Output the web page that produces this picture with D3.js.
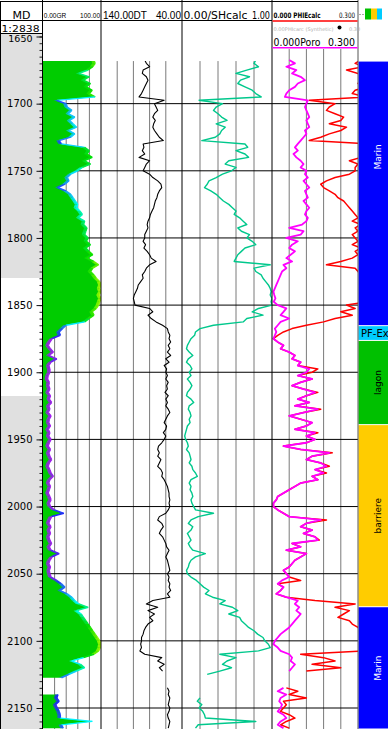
<!DOCTYPE html>
<html>
<head>
<meta charset="utf-8">
<script src="https://cdn.jsdelivr.net/npm/d3@7"></script>
<style>
  html, body { margin: 0; padding: 0; background: #fff; }
  svg { display: block; }
</style>
</head>
<body>
<svg id="chart" width="388" height="729"></svg>
<script>
// curves are sampled every 2.5 m from 1667.5 m down to 2165 m (null = no data)
const DEPTH_START = 1667.5;
const DEPTH_STEP = 2.5;

const GR = [
  88, 90, 86, 78, 62, 80, 70, 82, 75, 85, 80, 90, 24,
  40, 42, 50, 44, 55, 46, 52, 58, 45, 55, 48, 28, 32, 72, 80, 76, 85, 72, 82, 68,
  60, 48, 42, 45, 38, 26, 40, 48, 52, 56, 60, 58, 64, 68, 62, 72, 70, 76, 74, 72,
  78, 75, 82, 74, 80, 86, 76, 88, 96, 86, 82, 88, 92, 98, 100, 98, 100, 97, 100, 98,
  96, 92, 85, 88, 80, 72, 40, 34, 28, 30, 16, 12, 9, 13, 18, 10, 24, 14, 10, 12,
  12, 9, 8, 11, 10, 12, 9, 13, 11, 15, 10, 12, 9, 14, 11, 10, 13, 9, 12, 10,
  14, 11, 9, 13, 10, 12, 15, 11, 9, 12, 14, 18, 12, 10, 13, 11, 9, 12, 14, 11,
  13, 20, 36, 15, 12, 10, 14, 11, 13, 10, 12, 15, 11, 14, 28, 16, 12, 10, 13, 11,
  12, 14, 24, 32, 38, 30, 42, 50, 55, 62, 78, 58, 66, 70, 74, 78, 82, 86, 90, 94,
  98, 100, 99, 96, 88, 70, 50, 65, 72, 58, 45, 32, null, null, null, null, 26, 24, 28, 22,
  25, 28, 30, 30, 85, 32, 35
];

const DT = [
  86, 84, 80, 88, 89, 84, 82, 84, 86, 88, 90, 93, 62,
  74, 72, 70, 74, 76, 73, 75, 76, 74, 71, 68, 63, 88, 87, 89, 86, 93, 80, 84, 86,
  88, 80, 76, 70, 66, 65, 68, 70, 71, 73, 74, 75, 77, 79, 80, 82, 83, 82, 84, 86,
  86, 88, 85, 87, 83, 80, 78, 72, 80, 84, 86, 89, 88, 91, 94, 95, 97, 99, 100, 99,
  98, 80, 76, 82, 78, 72, 64, 58, 57, 55, 56, 54, 57, 55, 58, 54, 60, 56, 62, 59,
  60, 58, 60, 57, 59, 58, 61, 57, 60, 58, 60, 57, 55, 58, 60, 62, 59, 60, 63, 60,
  62, 65, 69, 70, 68, 70, 66, 68, 70, 66, 64, 65, 62, 60, 58, 57, 56, 56, 55, 56,
  55, 57, 60, 68, 70, 65, 63, 66, 68, 64, 62, 60, 59, 56, 58, 60, 58, 57, 56, 55,
  58, 56, 57, 55, 56, 54, 58, 55, 76, 84, 70, 82, 74, 80, 76, 82, 85, 87, 88, 90,
  90, 91, 90, 92, 86, 65, 70, 62, 68, 64, null, null, null, null, 58, 56, 57, 55, 56, 57,
  55, 56, 58, 57, 55, 56, 57
];

const SHCALC = [
  0.82, 0.80, 0.85, 0.72, 0.60, 0.75, 0.65, 0.62, 0.70, 0.78, 0.82, 0.88, 0.19,
  0.45, 0.38, 0.35, 0.40, 0.44, 0.50, 0.38, 0.48, 0.44, 0.42, 0.37, 0.22, 0.70, 0.73, 0.60, 0.70, 0.74, 0.52, 0.48, 0.60,
  0.55, 0.45, 0.38, 0.30, 0.28, 0.25, 0.32, 0.38, 0.42, 0.46, 0.52, 0.56, 0.60, 0.58, 0.64, 0.68, 0.72, 0.62, 0.66, 0.75,
  0.72, 0.78, 0.82, 0.70, 0.66, 0.62, 0.60, 0.58, 0.98, 0.80, 0.82, 0.88, 0.90, 0.93, 0.96, 0.98, 0.99, 0.98, 1.00, 0.99,
  1.00, 0.85, 0.78, 0.90, 0.72, 0.68, 0.35, 0.20, 0.15, 0.14, 0.10, 0.08, 0.06, 0.05, 0.08, 0.12, 0.07, 0.05, 0.09, 0.11,
  0.08, 0.10, 0.06, 0.09, 0.11, 0.09, 0.06, 0.05, 0.10, 0.13, 0.08, 0.07, 0.09, 0.10, 0.08, 0.09, 0.06, 0.05, 0.04, 0.03,
  0.04, 0.06, 0.07, 0.05, 0.08, 0.09, 0.10, 0.08, 0.11, 0.12, 0.15, 0.17, 0.10, 0.08, 0.10, 0.09, 0.11, 0.12, 0.10, 0.11,
  0.13, 0.15, 0.35, 0.18, 0.10, 0.07, 0.12, 0.10, 0.06, 0.08, 0.10, 0.07, 0.09, 0.12, 0.26, 0.15, 0.10, 0.08, 0.07, 0.05,
  0.06, 0.10, 0.16, 0.20, 0.24, 0.30, 0.26, 0.34, 0.48, 0.42, 0.56, 0.62, 0.52, 0.64, 0.66, 0.70, 0.74, 0.80, 0.84, 0.90,
  0.92, 0.96, 0.98, 0.85, 0.42, 0.60, 0.50, 0.45, 0.55, 0.42, 0.28, null, null, null, null, null, null, 0.20, 0.17, 0.22,
  0.19, 0.23, 0.25, 0.26, 0.82, 0.18, 0.15
];

const PORO = [
  0.06, 0.08, 0.05, 0.085, 0.07, 0.10, 0.115, 0.09, 0.08, 0.06, 0.05, 0.045, 0.125,
  0.12, 0.115, 0.12, 0.125, 0.13, 0.12, 0.125, 0.13, 0.115, 0.12, 0.11, 0.10, 0.09, 0.08, 0.09, 0.075, 0.085, 0.10, 0.11, 0.10,
  0.12, 0.115, 0.125, 0.11, 0.12, 0.13, 0.115, 0.12, 0.125, 0.11, 0.12, 0.13, 0.12, 0.115, 0.125, 0.12, 0.105, 0.06, 0.11, 0.10,
  0.05, 0.09, 0.07, 0.06, 0.08, 0.065, 0.05, 0.07, 0.04, 0.05, 0.035, 0.03, 0.025, 0.02, 0.015, 0.01, 0.005, 0.008, 0.012, 0.006,
  0.02, 0.05, 0.04, 0.03, 0.06, 0.03, 0.02, 0.01, 0.015, 0.01, 0.005, 0.02, 0.04, 0.03, 0.06, 0.08, 0.07, 0.10, 0.09, 0.13,
  0.12, 0.09, 0.14, 0.10, 0.07, 0.11, 0.15, 0.12, 0.09, 0.13, 0.08, 0.16, 0.11, 0.06, 0.10, 0.14, 0.12, 0.08, 0.15, 0.12,
  0.15, 0.12, 0.04, 0.10, 0.20, 0.14, 0.12, 0.17, 0.19, 0.15, 0.18, 0.14, 0.16, 0.10, 0.08, 0.06, 0.04, 0.02, 0.015, 0.005,
  0.005, 0.02, 0.04, 0.06, 0.17, 0.12, 0.10, 0.14, 0.11, 0.15, 0.16, 0.07, 0.10, 0.05, 0.12, 0.10, 0.08, 0.07, 0.06, 0.04,
  0.05, 0.06, 0.035, 0.02, 0.04, 0.03, 0.015, 0.05, 0.09, 0.08, 0.095, 0.085, 0.10, 0.09, 0.08, 0.07, 0.06, 0.045, 0.03, 0.02,
  0.01, 0.005, 0.02, 0.03, 0.06, 0.07, 0.065, 0.08, 0.07, 0.06, null, null, null, null, 0.04, 0.02, 0.05, 0.03, 0.025, 0.035,
  0.03, 0.02, 0.04, 0.05, 0.03, 0.02, 0.04
];

const PHIECALC = [
  0.31, 0.29, 0.32, 0.26, 0.30, 0.33, 0.31, 0.30, 0.33, 0.29, 0.28, 0.33, 0.13,
  0.22, 0.20, 0.19, 0.22, 0.25, 0.24, 0.20, 0.26, 0.24, 0.20, 0.17, 0.13, 0.34, 0.33, 0.35, 0.34, 0.31, 0.27, 0.30, 0.29,
  0.29, 0.27, 0.22, 0.19, 0.17, 0.18, 0.20, 0.22, 0.23, 0.25, 0.26, 0.27, 0.28, 0.29, 0.30, 0.28, 0.31, 0.29, 0.30, 0.28,
  0.29, 0.30, 0.28, 0.31, 0.29, 0.30, 0.28, 0.24, 0.19, 0.29, 0.30, 0.31, 0.32, 0.33, 0.31, 0.32, 0.33, 0.32, 0.31, 0.33,
  0.26, 0.29, 0.24, 0.28, 0.22, 0.18, 0.12, 0.07, 0.04, 0.02, 0.005, 0.02, 0.04, 0.03, 0.06, 0.08, 0.07, 0.10, 0.09, 0.16,
  0.14, 0.09, 0.14, 0.10, 0.07, 0.11, 0.16, 0.12, 0.09, 0.13, 0.08, 0.17, 0.11, 0.06, 0.10, 0.14, 0.12, 0.08, 0.16, 0.12,
  0.15, 0.12, 0.04, 0.10, 0.21, 0.14, 0.12, 0.17, 0.20, 0.15, 0.19, 0.14, 0.16, 0.10, 0.08, 0.06, 0.04, 0.02, 0.015, 0.005,
  0.005, 0.02, 0.04, 0.06, 0.19, 0.12, 0.10, 0.14, 0.11, 0.15, 0.165, 0.07, 0.10, 0.05, 0.12, 0.10, 0.08, 0.07, 0.06, 0.04,
  0.05, 0.06, 0.10, 0.02, 0.04, 0.03, 0.015, 0.05, 0.15, 0.29, 0.22, 0.27, 0.25, 0.23, 0.27, 0.28, 0.30, 0.31, 0.32, 0.33,
  0.33, 0.34, 0.33, 0.32, 0.10, 0.18, 0.22, 0.14, 0.24, 0.12, null, null, null, null, 0.05, 0.09, 0.06, 0.12, 0.04, 0.05,
  0.04, 0.03, 0.06, 0.08, 0.05, 0.03, 0.06
];

// zonation (depths in m)
const ZONE_NAMES = ["Marin", "PF-Ex", "lagon", "barriere", "Marin"];
const ZONE_TOPS = [1614, 1865.3, 1876.3, 1939, 2074.6];
const ZONE_BASES = [1865.3, 1876.3, 1939, 2074.6, 2166];
const ZONE_COLORS = ["#0000ff", "#00ccff", "#00c000", "#ffcc00", "#0000ff"];
const ZONE_TEXT = ["#ffffff", "#000000", "#000000", "#000000", "#ffffff"];

// depth track: white (unshaded) interval
const DEPTH_SHADE_GAP = [1829.8, 1917.7];
const DATA_TOP = 1668.3;

const W = 388, H = 729;
const FONT = "DejaVu Sans, Verdana, sans-serif";
const NARROW = "Liberation Sans, Arial, sans-serif";
const svg = d3.select("#chart");

const y = d3.scaleLinear().domain([1650, 2150]).range([36.5, 708]);
const xGR = d3.scaleLinear().domain([0, 100]).range([43, 101]);
const xDT = d3.scaleLinear().domain([140, 40]).range([101, 182]);
const xSH = d3.scaleLinear().domain([0, 1]).range([182, 272]);
const xPHI = d3.scaleLinear().domain([0, 0.3]).range([272, 358]);

const rows = (vals) => vals.map((v, i) => ({ d: DEPTH_START + i * DEPTH_STEP, v }));
const grData = rows(GR), dtData = rows(DT), shData = rows(SHCALC);
const poroData = rows(PORO), phieData = rows(PHIECALC);

svg.append("rect").attr("width", W).attr("height", H).attr("fill", "#fff");

// depth track shading
svg.append("rect").attr("x", 0).attr("y", 33.5).attr("width", 42.5)
  .attr("height", y(DEPTH_SHADE_GAP[0]) - 33.5).attr("fill", "#e0e0e0");
svg.append("rect").attr("x", 0).attr("y", y(DEPTH_SHADE_GAP[1])).attr("width", 42.5)
  .attr("height", H - y(DEPTH_SHADE_GAP[1])).attr("fill", "#e0e0e0");

// clip paths per track
const defs = svg.append("defs");
function clip(id, x0, x1, top) {
  defs.append("clipPath").attr("id", id).append("rect")
    .attr("x", x0).attr("y", top).attr("width", x1 - x0).attr("height", H - top);
  return `url(#${id})`;
}
const yTop = y(DATA_TOP);
const clipGR = clip("cgr", 43, 101, yTop);
const clipDT = clip("cdt", 101, 182, yTop);
const clipSH = clip("csh", 182, 272, yTop);
const clipPHI = clip("cphi", 272, 358, 49);

// vertical grid lines
const grid = svg.append("g").attr("stroke", "#7a7a7a").attr("stroke-width", 1);
function vgrid(scale, ticks, top) {
  ticks.forEach(t => grid.append("line")
    .attr("x1", scale(t)).attr("x2", scale(t)).attr("y1", top).attr("y2", H));
}
vgrid(xGR, [20, 40, 60, 80], yTop);
vgrid(xDT, [120, 100, 80, 60], yTop);
vgrid(xSH, [0.2, 0.4, 0.6, 0.8], yTop);
vgrid(xPHI, [0.06, 0.12, 0.18, 0.24], 49);

// horizontal depth lines every 50 m
const hl = svg.append("g").attr("stroke", "#000").attr("stroke-width", 1);
d3.range(1700, 2151, 50).forEach(d => hl.append("line")
  .attr("x1", 43).attr("x2", 358).attr("y1", y(d)).attr("y2", y(d)));

// depth axis
const axMinor = svg.append("g").attr("transform", "translate(42.5,0)")
  .call(d3.axisLeft(y).tickValues(d3.range(1650, 2166, 5)).tickSize(3).tickFormat(""));
axMinor.select(".domain").remove();
axMinor.selectAll("line").attr("stroke", "#222");
const axMajor = svg.append("g").attr("transform", "translate(42.5,0)")
  .call(d3.axisLeft(y).tickValues(d3.range(1650, 2151, 50)).tickSize(6).tickPadding(4).tickFormat(d3.format("d")));
axMajor.select(".domain").remove();
axMajor.selectAll("line").attr("stroke", "#111");
axMajor.selectAll("text").attr("font-family", FONT).attr("font-size", 10).attr("fill", "#000");
axMajor.selectAll("text").filter(d => d === 1650).attr("dy", "0.5em").attr("font-size", 9.5);

// GR fill and value-coloured edge
const grColor = d3.scaleLinear()
  .domain([0, 15, 25, 40, 60, 80, 100])
  .range(["#b000ff", "#a020f0", "#2020ff", "#1e90ff", "#00ffff", "#00e000", "#b0ff00"])
  .clamp(true);
const grG = svg.append("g").attr("clip-path", clipGR);
grG.append("path").datum(grData)
  .attr("fill", "#00cc00")
  .attr("d", d3.area().defined(d => d.v != null)
    .y(d => y(d.d)).x0(xGR(0)).x1(d => xGR(d.v)));
const x0GR = xGR(0);
for (let i = 0; i < grData.length - 1; i++) {
  const a = grData[i], b = grData[i + 1];
  if (a.v == null || b.v == null) continue;
  const xa = xGR(a.v), xb = xGR(b.v), ya = y(a.d), yb = y(b.d);
  const pts = [[Math.max(x0GR, xa - 3), ya], [xa, ya], [xb, yb], [Math.max(x0GR, xb - 3), yb]];
  grG.append("polygon").attr("points", pts.map(p => p.join(",")).join(" "))
    .attr("fill", grColor((a.v + b.v) / 2)).attr("opacity", 0.8);
  grG.append("line").attr("x1", xa).attr("y1", ya).attr("x2", xb).attr("y2", yb)
    .attr("stroke", grColor((a.v + b.v) / 2)).attr("stroke-width", 1.3);
}

// curves
function curve(data, scale, color, width, clipUrl) {
  svg.append("path").datum(data)
    .attr("clip-path", clipUrl)
    .attr("fill", "none").attr("stroke", color).attr("stroke-width", width)
    .attr("stroke-linejoin", "round")
    .attr("d", d3.line().defined(d => d.v != null)
      .x(d => scale(d.v)).y(d => y(d.d)));
}
curve(dtData, xDT, "#000", 1.1, clipDT);
curve(shData, xSH, "#00c88c", 1.4, clipSH);
curve(phieData, xPHI, "#ff0000", 1.5, clipPHI);
curve(poroData, xPHI, "#ff00ff", 1.8, clipPHI);

// zonation track
const zg = svg.append("g");
ZONE_NAMES.forEach((name, i) => {
  const t = Math.max(ZONE_TOPS[i], DATA_TOP), b = ZONE_BASES[i];
  const y0 = y(t), y1 = Math.min(y(b), H);
  zg.append("rect").attr("x", 358.5).attr("y", y0 + 0.5).attr("width", W - 358.5)
    .attr("height", y1 - y0 - 1).attr("fill", ZONE_COLORS[i]);
  const ym = y((ZONE_TOPS[i] + ZONE_BASES[i]) / 2);
  if (y1 - y0 < 20) {
    zg.append("text").attr("x", 361).attr("y", ym).attr("dy", "0.35em")
      .attr("font-family", FONT).attr("font-size", 10).attr("fill", ZONE_TEXT[i]).text(name);
  } else {
    zg.append("text").attr("transform", `translate(378,${ym}) rotate(-90)`)
      .attr("text-anchor", "middle").attr("dy", "0.35em")
      .attr("font-family", FONT).attr("font-size", 9).attr("fill", ZONE_TEXT[i]).text(name);
  }
});

// header area of the depth track sits over the top of the first depth label
svg.append("rect").attr("x", 0).attr("y", 20.5).attr("width", 42.5).attr("height", 13).attr("fill", "#fff");

// track borders
const borders = svg.append("g").attr("stroke", "#000").attr("stroke-width", 1);
[[0.5, 1.5], [42.5, 0], [101, 0], [182, 0], [272, 0]].forEach(([x, t]) =>
  borders.append("line").attr("x1", x).attr("x2", x).attr("y1", t).attr("y2", H));
borders.append("line").attr("x1", 358).attr("x2", 358).attr("y1", 0).attr("y2", H).attr("stroke", "#555");
borders.append("line").attr("x1", 0).attr("x2", 358).attr("y1", 1.5).attr("y2", 1.5);
borders.append("line").attr("x1", 0).attr("x2", 272).attr("y1", 20.5).attr("y2", 20.5);
borders.append("line").attr("x1", 0).attr("x2", 42.5).attr("y1", 33.5).attr("y2", 33.5);

// headers
function label(x, yy, txt, size, opts = {}) {
  const t = svg.append("text").attr("x", x).attr("y", yy)
    .attr("font-family", opts.font || FONT).attr("font-size", size)
    .attr("fill", opts.fill || "#000").text(txt);
  if (opts.anchor) t.attr("text-anchor", opts.anchor);
  if (opts.len) t.attr("textLength", opts.len).attr("lengthAdjust", "spacingAndGlyphs");
  if (opts.bold) t.attr("font-weight", "bold");
  return t;
}
label(21.5, 18.5, "MD", 11, { anchor: "middle" });
label(1.5, 31.5, "1:2838", 9.5, { len: 38 });
label(43.8, 18, "0.00GR", 6.5, { font: NARROW });
label(100, 18, "100.00", 6.5, { font: NARROW, anchor: "end" });
label(103, 19, "140.00DT", 10, { font: NARROW });
label(181, 19, "40.00", 10, { font: NARROW, anchor: "end" });
label(183.5, 19, "0.00/SHcalc", 10, { len: 64 });
label(252, 19, "1.00", 10, { len: 18 });
label(273.5, 17.5, "0.000 PHIEcalc", 7.5, { len: 47, bold: true });
label(339, 17.5, "0.300", 7.5, { len: 16 });
svg.append("line").attr("x1", 272.5).attr("x2", 357.5).attr("y1", 21).attr("y2", 21)
  .attr("stroke", "#ff0000").attr("stroke-width", 1.5);
label(273.5, 30.5, "0.00PHIcarc (Synthetic)", 5, { len: 60, fill: "#b0b0b0" });
svg.append("circle").attr("cx", 339.5).attr("cy", 27.5).attr("r", 2).attr("fill", "#000");
label(349, 30.5, "0.30", 5, { fill: "#b0b0b0" });
label(273.5, 45.5, "0.000Poro", 10, { len: 47 });
label(328, 45.5, "0.300", 10, { len: 27 });
svg.append("line").attr("x1", 272.5).attr("x2", 357.5).attr("y1", 47.8).attr("y2", 47.8)
  .attr("stroke", "#ff00ff").attr("stroke-width", 1.5);

// zone colour legend in the header
svg.append("line").attr("x1", 359).attr("x2", 365).attr("y1", 14.5).attr("y2", 14.5)
  .attr("stroke", "#aaa").attr("stroke-dasharray", "2,1");
[["#00c000", 365, 6], ["#ffcc00", 371, 6], ["#00ccff", 377, 5]].forEach(([c, x, w]) =>
  svg.append("rect").attr("x", x).attr("y", 8.5).attr("width", w).attr("height", 11).attr("fill", c));
</script>
</body>
</html>
